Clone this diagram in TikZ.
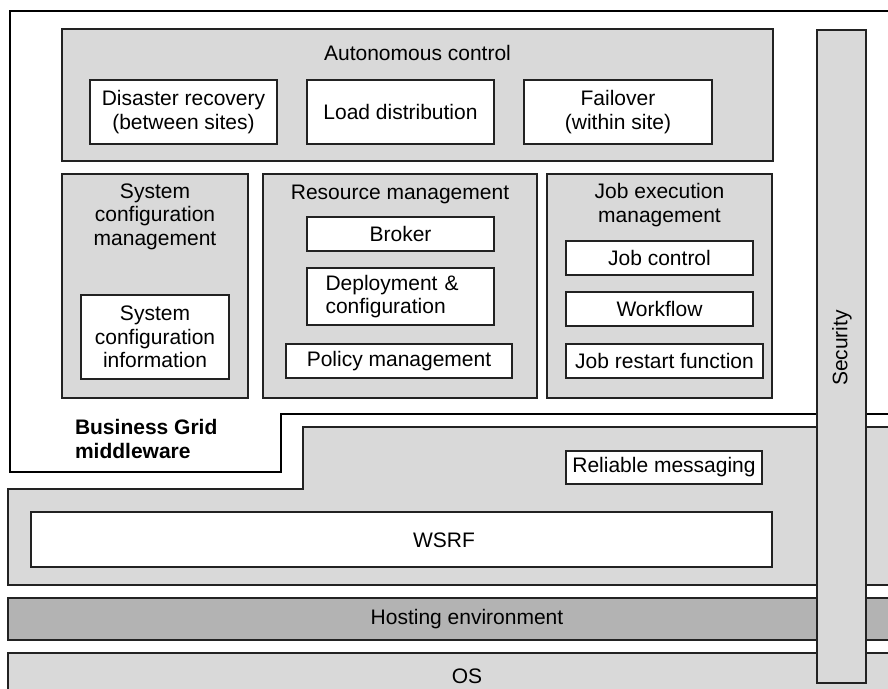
\documentclass[tikz,border=0pt]{standalone}
\usepackage{fontspec}
\setmainfont{Liberation Sans}
\definecolor{lgray}{HTML}{D9D9D9}
\definecolor{dgray}{HTML}{B3B3B3}
\definecolor{edge}{HTML}{222222}
\tikzset{
  every node/.style={font=\fontsize{21}{23.5}\selectfont, inner sep=0pt, outer sep=0pt},
  gbox/.style={draw=edge, line width=1.1pt, fill=lgray, anchor=north west},
  wbox/.style={draw=edge, line width=1.1pt, fill=white, anchor=north west, align=center},
  ttl/.style={align=center, anchor=north},
  thickline/.style={line width=2.6pt, draw=black, line join=miter},
}
\begin{document}
\begin{tikzpicture}[x=1pt,y=-1pt]
\useasboundingbox (0,0) rectangle (888,688);
\clip (0,0) rectangle (888,688);
\fill[white] (0,0) rectangle (888,688);

% Business Grid middleware outline
\draw[thickline] (900,11) -- (10,11) -- (10,472) -- (281,472) -- (281,414) -- (900,414);
\node[anchor=north west, align=left, font=\fontsize{21}{23.5}\selectfont\bfseries] (bgm) at (75,419.5) {Business Grid\\middleware};

% Autonomous control
\node[gbox, minimum width=711pt, minimum height=132pt] (auto) at (62,29) {};
\node[anchor=base] (autot) at (417.5,60) {Autonomous control};
\node[wbox, minimum width=187pt, minimum height=64pt] (dr) at (90,80) {Disaster recovery\\(between sites)};
\node[wbox, minimum width=187pt, minimum height=64pt] (ld) at (307,80) {Load distribution};
\node[wbox, minimum width=188pt, minimum height=64pt] (fo) at (524,80) {Failover\\(within site)};

% System configuration management
\node[gbox, minimum width=186pt, minimum height=224pt] (scm) at (62,174) {};
\node[ttl] (scmt) at (155,183.5) {System\\configuration\\management};
\node[wbox, minimum width=148pt, minimum height=84pt] (sci) at (81,295) {System\\configuration\\information};

% Resource management
\node[gbox, minimum width=274pt, minimum height=224pt] (rm) at (263,174) {};
\node[anchor=base] (rmt) at (400,199) {Resource management};
\node[wbox, minimum width=187pt, minimum height=34pt] (brk) at (307,217) {Broker};
\node[wbox, minimum width=187pt, minimum height=57pt, text width=150pt, align=left] (dep) at (307,268) {Deployment \&\\configuration};
\node[wbox, minimum width=226pt, minimum height=34pt] (pol) at (286,344) {Policy management};

% Job execution management
\node[gbox, minimum width=225pt, minimum height=224pt] (jem) at (547,174) {};
\node[ttl] (jemt) at (659.5,183.5) {Job execution\\management};
\node[wbox, minimum width=187pt, minimum height=34pt] (jc) at (566,241) {Job control};
\node[wbox, minimum width=187pt, minimum height=34pt] (wf) at (566,292) {Workflow};
\node[wbox, minimum width=197pt, minimum height=34pt] (jr) at (566,344) {Job restart function};

% Messaging / WSRF layer
\draw[draw=edge, line width=1.1pt, fill=lgray] (8,489) -- (303,489) -- (303,427) -- (900,427) -- (900,585) -- (8,585) -- cycle;
\node[wbox, minimum width=196pt, minimum height=33pt] (rmsg) at (566,451) {Reliable messaging};
\node[wbox, minimum width=741pt, minimum height=55pt] (wsrf) at (31,512) {};
\node (wsrft) at (444,540) {WSRF};

% Hosting environment and OS
\node[gbox, fill=dgray, minimum width=918pt, minimum height=42pt] (host) at (8,598) {Hosting environment};
\node[gbox, minimum width=918pt, minimum height=60pt] (os) at (8,653) {};
\node (ost) at (467,676) {OS};

% Security
\node[gbox, minimum width=49pt, minimum height=653pt] (sec) at (817,30) {};
\node[rotate=90] (sect) at (842,348) {Security};
\end{tikzpicture}
\end{document}
